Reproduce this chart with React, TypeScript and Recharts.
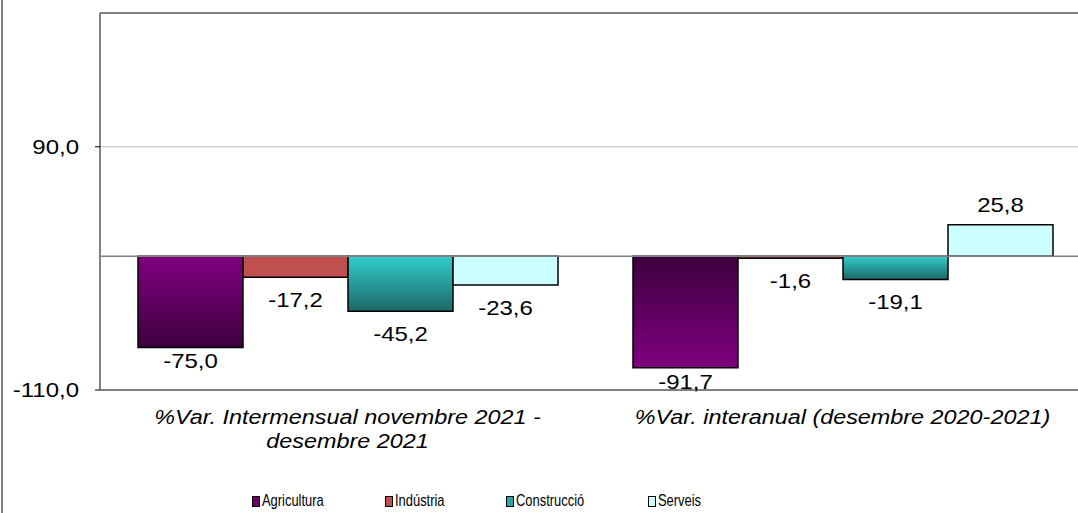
import React from 'react';
import { BarChart, Bar, XAxis, YAxis, CartesianGrid, ReferenceLine, Cell, LabelList } from 'recharts';

const categories = [
  '%Var. Intermensual novembre 2021 - desembre 2021',
  '%Var. interanual (desembre 2020-2021)',
];
const agricultura = [-75.0, -91.7];
const industria = [-17.2, -1.6];
const construccio = [-45.2, -19.1];
const serveis = [-23.6, 25.8];
const yTicks = [-110, 90];
const yDomain: [number, number] = [-110, 200];
const seriesNames = ['Agricultura', 'Indústria', 'Construcció', 'Serveis'];
const seriesKeys = ['agricultura', 'industria', 'construccio', 'serveis'];

const data = categories.map((c, i) => ({
  category: c,
  agricultura: agricultura[i],
  industria: industria[i],
  construccio: construccio[i],
  serveis: serveis[i],
}));

// styles
const FONT = '"Liberation Sans", Arial, sans-serif';
const cellFills: Record<string, string[]> = {
  agricultura: ['url(#gAgriDown)', 'url(#gAgriUp)'],
  industria: ['#C0504D', '#C0504D'],
  construccio: ['url(#gCons)', 'url(#gCons)'],
  serveis: ['#CCFFFF', '#CCFFFF'],
};
const legendSwatch = ['#6A006A', '#C0504D', '#2AA5A5', '#CCFFFF'];
const legendX = [252, 385, 506, 648];
const labelNegOffset: Record<string, number> = { agricultura: 14, industria: 23, construccio: 23, serveis: 23 };
const labelPosOffset = 20;

const fmt = (v: number) => v.toFixed(1).replace('.', ',');

const wrap = (s: string, max: number) => {
  const words = s.split(' ');
  const lines: string[] = [];
  let cur = '';
  for (const w of words) {
    const next = cur ? cur + ' ' + w : w;
    if (next.length > max && cur) {
      lines.push(cur);
      cur = w;
    } else cur = next;
  }
  if (cur) lines.push(cur);
  return lines;
};

const YTick = (props: any) => {
  const { x, y, payload } = props;
  return (
    <g transform={`translate(${x},${y}) scale(1.2,1)`}>
      <text x={0} y={0} textAnchor="end" dominantBaseline="central" fontSize={20} fill="#000" fontFamily={FONT}>
        {fmt(payload.value)}
      </text>
    </g>
  );
};

const XTick = (props: any) => {
  const { x, y, payload } = props;
  const lines = wrap(String(payload.value), 38);
  return (
    <g transform={`translate(${x},${y}) scale(1.2,1)`}>
      {lines.map((l, i) => (
        <text key={i} x={0} y={34 + i * 24} textAnchor="middle" fontSize={19.5} fontStyle="italic" fill="#000" fontFamily={FONT}>
          {l}
        </text>
      ))}
    </g>
  );
};

const makeLabel = (key: string) => (props: any) => {
  const vb = props.viewBox || {};
  const x = Number(props.x ?? vb.x);
  const y = Number(props.y ?? vb.y);
  const width = Number(props.width ?? vb.width);
  const height = Number(props.height ?? vb.height);
  const value = Number(props.value);
  const top = Math.min(y, y + height);
  const bottom = Math.max(y, y + height);
  const cx = x + width / 2;
  const cy = value < 0 ? bottom + labelNegOffset[key] : top - labelPosOffset;
  return (
    <g transform={`translate(${cx},${cy}) scale(1.2,1)`}>
      <text x={0} y={0} textAnchor="middle" dominantBaseline="central" fontSize={20} fill="#000" fontFamily={FONT}>
        {fmt(value)}
      </text>
    </g>
  );
};

export default function App() {
  return (
    <div style={{ position: 'absolute', left: 0, top: 0, width: 1078, height: 513, overflow: 'hidden', background: '#fff' }}>
      <div style={{ position: 'absolute', left: 1, top: 0, width: 2, height: 513, background: '#808080' }} />
      <div style={{ position: 'absolute', left: 0, top: 0 }}>
        <BarChart
          width={1090}
          height={513}
          data={data}
          margin={{ top: 13, right: 0, bottom: 0, left: 0 }}
          barCategoryGap={38}
          barGap={0}
        >
          <defs>
            <linearGradient id="gAgriDown" x1="0" y1="0" x2="0" y2="1">
              <stop offset="0%" stopColor="#800080" />
              <stop offset="100%" stopColor="#3D003D" />
            </linearGradient>
            <linearGradient id="gAgriUp" x1="0" y1="0" x2="0" y2="1">
              <stop offset="0%" stopColor="#3D003D" />
              <stop offset="100%" stopColor="#800080" />
            </linearGradient>
            <linearGradient id="gCons" x1="0" y1="0" x2="0" y2="1">
              <stop offset="0%" stopColor="#33CCCC" />
              <stop offset="100%" stopColor="#1C6868" />
            </linearGradient>
          </defs>
          <CartesianGrid vertical={false} stroke="#BFBFBF" strokeWidth={1} />
          <XAxis
            dataKey="category"
            interval={0}
            height={123}
            tickSize={0}
            tickMargin={0}
            tickLine={false}
            axisLine={{ stroke: '#808080', strokeWidth: 2 }}
            tick={<XTick />}
          />
          <YAxis
            type="number"
            domain={yDomain}
            ticks={yTicks}
            width={100}
            tickSize={5}
            tickMargin={16}
            tickLine={{ stroke: '#000' }}
            axisLine={{ stroke: '#808080', strokeWidth: 2 }}
            tick={<YTick />}
          />
          <ReferenceLine y={200} stroke="#808080" strokeWidth={2} />
          <ReferenceLine y={0} stroke="#808080" strokeWidth={1.5} />
          {seriesKeys.map((k, si) => (
            <Bar key={k} dataKey={k} name={seriesNames[si]} stroke="#000" strokeWidth={1.5} isAnimationActive={false}>
              {data.map((_, ci) => (
                <Cell key={ci} fill={cellFills[k][ci]} />
              ))}
              <LabelList dataKey={k} content={makeLabel(k)} />
            </Bar>
          ))}
        </BarChart>
      </div>
      {seriesNames.map((n, i) => (
        <div
          key={n}
          style={{ position: 'absolute', left: legendX[i], top: 492, height: 18, display: 'flex', alignItems: 'center', fontFamily: FONT, fontSize: 17, lineHeight: '18px', color: '#000', whiteSpace: 'nowrap' }}
        >
          <span style={{ display: 'inline-block', width: 6, height: 9, border: '1.5px solid #000', background: legendSwatch[i], marginRight: 2 }} />
          <span style={{ display: 'inline-block', transform: 'scaleX(0.76)', transformOrigin: 'left center' }}>{n}</span>
        </div>
      ))}
    </div>
  );
}
